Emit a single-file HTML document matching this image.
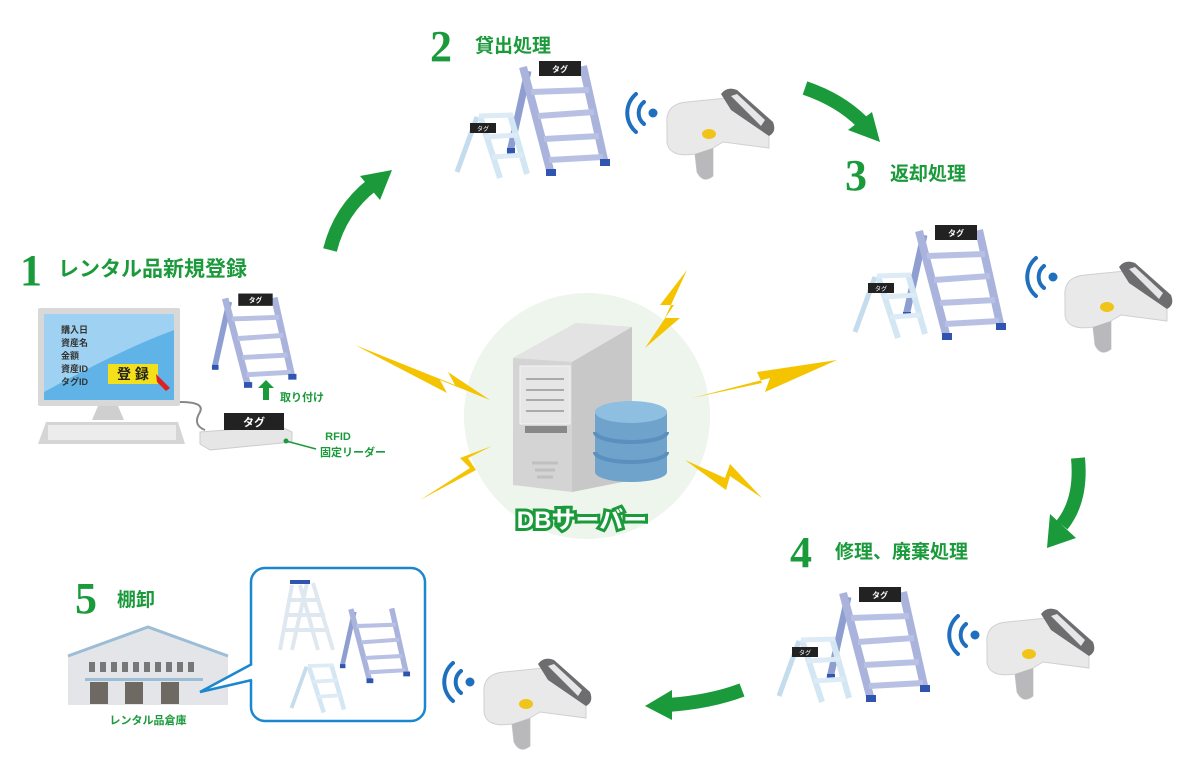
<!DOCTYPE html>
<html><head><meta charset="utf-8"><style>
html,body{margin:0;padding:0;background:#fff;}
svg{display:block;font-family:"Liberation Sans","Noto Sans CJK JP",sans-serif;}
.g{fill:#1a9a3a;font-weight:bold;}
.num{font-family:"Liberation Serif","Noto Serif CJK SC",serif;font-weight:bold;fill:#1a9a3a;font-size:44px;}
</style></head><body>
<svg width="1200" height="768" viewBox="0 0 1200 768" xmlns="http://www.w3.org/2000/svg">
<defs>
<g id="ladderN">
  <line x1="21" y1="7" x2="3" y2="88" stroke="#8e9ed0" stroke-width="7"/>
  <line x1="16" y1="3" x2="44" y2="110" stroke="#a9b3dc" stroke-width="8"/>
  <line x1="76" y1="2" x2="98" y2="100" stroke="#a9b3dc" stroke-width="8"/>
  <g stroke="#b8c1e4" stroke-width="6">
    <line x1="24" y1="28" x2="82" y2="26"/><line x1="31" y1="52" x2="87" y2="48"/>
    <line x1="37" y1="75" x2="92" y2="72"/><line x1="42" y1="96" x2="96" y2="93"/>
  </g>
  <rect x="39" y="105" width="10" height="7" fill="#2f55b0"/><rect x="93" y="95" width="10" height="7" fill="#2f55b0"/>
  <rect x="0" y="84" width="8" height="6" fill="#2f55b0"/>
</g>
<g id="ladder">
  <use href="#ladderN"/>
  <rect x="32" y="-3" width="42" height="15" fill="#222"/>
  <text x="53" y="8" font-size="8" fill="#fff" text-anchor="middle" font-weight="bold">タグ</text>
</g>
<g id="stoolN">
  <line x1="22" y1="5" x2="2" y2="60" stroke="#c4dcec" stroke-width="5"/>
  <line x1="25" y1="4" x2="45" y2="66" stroke="#d3e6f3" stroke-width="6"/>
  <line x1="55" y1="2" x2="72" y2="62" stroke="#d3e6f3" stroke-width="6"/>
  <g stroke="#dcebf5" stroke-width="5">
    <line x1="24" y1="4" x2="58" y2="3"/><line x1="30" y1="25" x2="63" y2="23"/><line x1="37" y1="45" x2="68" y2="43"/>
  </g>
</g>
<g id="stool">
  <use href="#stoolN"/>
  <rect x="15" y="11" width="26" height="10" fill="#222"/>
  <text x="28" y="19" font-size="6" fill="#fff" text-anchor="middle">タグ</text>
</g>
<g id="scanner">
  <path d="M2,32 Q0,12 22,10 L62,6 L104,42 L104,56 L58,50 L48,56 L48,84 Q38,92 32,80 L30,62 Q4,66 2,50Z" fill="#e9e9ea" stroke="#d0d0d2" stroke-width="1"/>
  <path d="M48,56 L48,84 Q38,92 32,80 L30,62Z" fill="#b9b9bb"/>
  <path d="M56,2 Q62,-6 72,-2 L108,30 Q112,40 104,44 L66,18Z" fill="#6d6d6f"/>
  <path d="M66,4 L72,2 L100,28 L96,34Z" fill="#e6e6e8"/>
  <ellipse cx="44" cy="42" rx="7" ry="5" fill="#f0c419"/>
</g>
<g id="wifi">
  <circle cx="0" cy="0" r="4.5" fill="#1f6fbf"/>
  <path d="M-9,-11 A14,14 0 0 0 -9,11" fill="none" stroke="#1f6fbf" stroke-width="4" stroke-linecap="round"/>
  <path d="M-17,-19 A25,25 0 0 0 -17,19" fill="none" stroke="#1f6fbf" stroke-width="4" stroke-linecap="round"/>
</g>
</defs>

<circle cx="587" cy="416" r="123" fill="#eef5ec"/>
<polygon points="355,345 455,385 448,372 490,400 440,380 447,393" fill="#f5c400"/>
<polygon points="420,500 470,468 460,458 492,446 468,458 476,470" fill="#f5c400"/>
<polygon points="687,270 665,318 680,318 645,348 674,305 660,305" fill="#f5c400"/>
<polygon points="692,398 762,383 757,372 837,360 765,392 770,378" fill="#f5c400"/>
<polygon points="685,460 725,478 730,464 762,498 730,476 726,490" fill="#f5c400"/>

<polygon points="513,358 576,323 632,327 632,480 572,492 513,485" fill="#d4d4d4"/>
<polygon points="513,358 576,323 632,327 572,362" fill="#e2e3e2"/>
<polygon points="572,362 632,327 632,480 572,492" fill="#c8c8c8"/>
<rect x="520" y="366" width="50" height="58" fill="#e6e6e6" stroke="#f4f4f4"/>
<g stroke="#aaa" stroke-width="2"><line x1="526" y1="379" x2="564" y2="379"/><line x1="526" y1="390" x2="564" y2="390"/><line x1="526" y1="400" x2="564" y2="400"/><line x1="526" y1="411" x2="564" y2="411"/></g>
<rect x="525" y="426" width="42" height="7" fill="#888"/>
<g stroke="#c0c0c0" stroke-width="3"><line x1="532" y1="463" x2="558" y2="463"/><line x1="535" y1="470" x2="555" y2="470"/><line x1="537" y1="477" x2="553" y2="477"/></g>
<rect x="595" y="412" width="72" height="60" fill="#6fa3cc"/>
<ellipse cx="631" cy="472" rx="36" ry="10" fill="#6fa3cc"/>
<path d="M595,432 A36,10 0 0 0 667,432" fill="none" stroke="#5b8fbe" stroke-width="4"/>
<path d="M595,452 A36,10 0 0 0 667,452" fill="none" stroke="#5b8fbe" stroke-width="4"/>
<ellipse cx="631" cy="412" rx="36" ry="11" fill="#8ebee0"/>
<text x="582" y="528" text-anchor="middle" font-size="24" font-weight="bold" fill="#fff" stroke="#1a9a3a" stroke-width="6" paint-order="stroke">DBサーバー</text>

<text x="20" y="285" class="num">1</text>
<text x="58" y="276" class="g" font-size="21">レンタル品新規登録</text>
<text x="430" y="61" class="num">2</text>
<text x="475" y="52" class="g" font-size="19">貸出処理</text>
<text x="845" y="190" class="num">3</text>
<text x="890" y="180" class="g" font-size="19">返却処理</text>
<text x="790" y="567" class="num">4</text>
<text x="835" y="558" class="g" font-size="19">修理、廃棄処理</text>
<text x="75" y="613" class="num">5</text>
<text x="117" y="606" class="g" font-size="19">棚卸</text>

<path d="M330,250 Q340,210 372,185" fill="none" stroke="#1a9a3a" stroke-width="14"/>
<polygon points="360,176 392,170 380,200" fill="#1a9a3a"/>
<path d="M805,88 Q840,100 862,122" fill="none" stroke="#1a9a3a" stroke-width="14"/>
<polygon points="848,130 880,142 872,112" fill="#1a9a3a"/>
<path d="M1078,458 Q1082,500 1062,525" fill="none" stroke="#1a9a3a" stroke-width="14"/>
<polygon points="1050,514 1047,548 1076,538" fill="#1a9a3a"/>
<path d="M742,690 Q710,702 668,705" fill="none" stroke="#1a9a3a" stroke-width="14"/>
<polygon points="672,690 645,706 672,720" fill="#1a9a3a"/>

<use href="#ladder" x="507" y="64"/>
<use href="#stool" x="455" y="112"/>
<use href="#ladder" x="903" y="228"/>
<use href="#stool" x="853" y="272"/>
<use href="#ladder" x="827" y="590"/>
<use href="#stool" x="777" y="636"/>
<use href="#ladder" transform="translate(212,296) scale(0.82)"/>

<use href="#scanner" x="665" y="92"/><use href="#wifi" x="653" y="113"/>
<use href="#scanner" x="1063" y="265"/><use href="#wifi" x="1053" y="277"/>
<use href="#scanner" x="985" y="612"/><use href="#wifi" x="975" y="635"/>
<use href="#scanner" x="482" y="662"/><use href="#wifi" x="470" y="682"/>

<rect x="38" y="308" width="142" height="98" rx="2" fill="#d8d8d8"/>
<rect x="44" y="314" width="130" height="86" fill="#5fb3e6"/>
<path d="M44,314 L174,314 L174,330 Q120,350 44,392Z" fill="#9fd2f2"/>
<g font-size="9" font-weight="bold" fill="#333">
<text x="61" y="333">購入日</text><text x="61" y="346">資産名</text><text x="61" y="359">金額</text><text x="61" y="372">資産ID</text><text x="61" y="385">タグID</text>
</g>
<rect x="108" y="364" width="50" height="20" fill="#f3e01a"/>
<text x="133" y="379" text-anchor="middle" font-size="14" font-weight="bold" fill="#222">登 録</text>
<polygon points="156,374 170,388 166,391 157,382 158,390" fill="#e02020"/>
<polygon points="98,406 118,406 124,420 92,420" fill="#cfcfcf"/>
<polygon points="46,422 178,422 185,444 38,444" fill="#d5d5d5"/>
<rect x="48" y="425" width="128" height="15" fill="#ececec"/>
<path d="M180,402 Q205,402 200,412 Q192,425 205,430" fill="none" stroke="#888" stroke-width="2"/>
<polygon points="200,432 280,426 292,432 292,442 210,450 200,444" fill="#e6e6e6" stroke="#ccc"/>
<rect x="224" y="413" width="60" height="17" fill="#222"/>
<text x="254" y="426" text-anchor="middle" font-size="11" font-weight="bold" fill="#fff">タグ</text>
<polygon points="258,388 266,380 274,388 269,388 269,400 263,400 263,388" fill="#1a9a3a"/>
<text x="280" y="401" class="g" font-size="11">取り付け</text>
<circle cx="286" cy="441" r="2.5" fill="#1a9a3a"/>
<line x1="286" y1="441" x2="316" y2="449" stroke="#1a9a3a" stroke-width="1.5"/>
<text x="338" y="440" class="g" font-size="11" text-anchor="middle">RFID</text>
<text x="353" y="456" class="g" font-size="11" text-anchor="middle">固定リーダー</text>

<polygon points="68,655 148,627 228,655 228,705 68,705" fill="#e3e5e8"/>
<polyline points="68,656 148,627 228,656" fill="none" stroke="#9cbdd6" stroke-width="3"/>
<g fill="#777"><rect x="89" y="662" width="6" height="10"/><rect x="100" y="662" width="6" height="10"/><rect x="111" y="662" width="6" height="10"/><rect x="122" y="662" width="6" height="10"/><rect x="133" y="662" width="6" height="10"/><rect x="144" y="662" width="6" height="10"/><rect x="155" y="662" width="6" height="10"/><rect x="166" y="662" width="6" height="10"/><rect x="177" y="662" width="6" height="10"/><rect x="188" y="662" width="6" height="10"/></g>
<rect x="85" y="678" width="118" height="3" fill="#9cbdd6"/>
<g fill="#6e6a63"><rect x="90" y="682" width="18" height="22"/><rect x="125" y="682" width="18" height="22"/><rect x="161" y="682" width="18" height="22"/></g>
<text x="148" y="724" class="g" font-size="11" text-anchor="middle">レンタル品倉庫</text>

<rect x="251" y="568" width="174" height="153" rx="14" fill="#fff" stroke="#1b87cf" stroke-width="2.5"/>
<polygon points="253,664 200,692 253,680" fill="#fff"/>
<polyline points="252,664 200,692 252,680" fill="none" stroke="#1b87cf" stroke-width="2.5"/>
<g stroke="#dfe8f0" stroke-width="4"><line x1="292" y1="585" x2="280" y2="650"/><line x1="307" y1="583" x2="292" y2="650"/><line x1="300" y1="585" x2="318" y2="650"/><line x1="313" y1="583" x2="333" y2="650"/><line x1="288" y1="600" x2="320" y2="600"/><line x1="286" y1="615" x2="325" y2="615"/><line x1="283" y1="630" x2="329" y2="630"/></g>
<g fill="#2f55b0"><rect x="290" y="580" width="20" height="4"/></g>
<use href="#ladderN" transform="translate(340,607) scale(0.68)"/>
<use href="#stoolN" transform="translate(290,663) scale(0.75)"/>
</svg>
</body></html>
